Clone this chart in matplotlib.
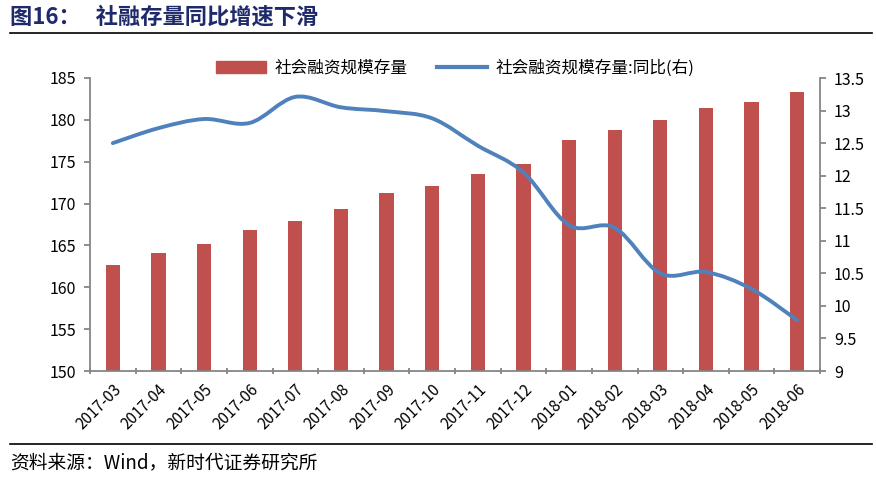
import numpy as np
import matplotlib.pyplot as plt
from matplotlib.path import Path
from matplotlib.patches import PathPatch, Patch
from matplotlib.lines import Line2D

plt.rcParams['font.family'] = ['Noto Sans CJK SC', 'DejaVu Sans']

months = ['2017-03', '2017-04', '2017-05', '2017-06', '2017-07', '2017-08',
          '2017-09', '2017-10', '2017-11', '2017-12', '2018-01', '2018-02',
          '2018-03', '2018-04', '2018-05', '2018-06']
stock = [162.7, 164.1, 165.2, 166.9, 167.9, 169.4, 171.3, 172.1,
         173.5, 174.7, 177.6, 178.8, 180.0, 181.4, 182.1, 183.3]
yoy = [12.50, 12.73, 12.87, 12.81, 13.21, 13.05, 12.99, 12.88,
       12.46, 12.05, 11.24, 11.20, 10.50, 10.52, 10.26, 9.78]

red = '#C0504D'
blue = '#4F81BD'
grey = '#868686'

fig = plt.figure(figsize=(8.76, 4.8), dpi=100)
ax = fig.add_axes([90 / 876, 1 - 371 / 480, 730 / 876, 293 / 480])
ax2 = ax.twinx()

x = np.arange(len(months))
ax.bar(x, stock, width=0.31, color=red, zorder=2)
ax.set_ylim(150, 185)
ax.set_yticks(np.arange(150, 186, 5))
ax.set_xlim(-0.5, len(months) - 0.5)
ax.set_xticks(x)
ax.set_xticklabels(months, rotation=45, ha='right', rotation_mode='anchor')
ax.set_xticks(np.arange(-0.5, len(months), 1), minor=True)
ax.tick_params(axis='x', which='major', length=0, pad=7, labelsize=11)
ax.tick_params(axis='x', which='minor', length=5, direction='inout', color=grey, width=1.3)
ax.tick_params(axis='y', length=4, color=grey, width=1.3, labelsize=11.5, pad=6)

# smoothed line (Catmull-Rom style bezier through the data points)
pts = np.column_stack([x, yoy])
verts = [tuple(pts[0])]
codes = [Path.MOVETO]
for i in range(len(pts) - 1):
    p0 = pts[i - 1] if i > 0 else pts[i]
    p1, p2 = pts[i], pts[i + 1]
    p3 = pts[i + 2] if i + 2 < len(pts) else pts[i + 1]
    c1 = p1 + (p2 - p0) / 6
    c2 = p2 - (p3 - p1) / 6
    verts += [tuple(c1), tuple(c2), tuple(p2)]
    codes += [Path.CURVE4] * 3
ax2.add_patch(PathPatch(Path(verts, codes), fill=False, edgecolor=blue,
                        lw=2.8, capstyle='round', zorder=3))
ax2.set_ylim(9, 13.5)
ax2.set_yticks(np.arange(9, 13.6, 0.5))
ax2.set_yticklabels(['9', '9.5', '10', '10.5', '11', '11.5', '12', '12.5', '13', '13.5'])
ax2.tick_params(axis='y', length=4, color=grey, width=1.3, labelsize=11.5, pad=6)

for a in (ax, ax2):
    a.spines['top'].set_visible(False)
    for s in ('left', 'right', 'bottom'):
        a.spines[s].set_color(grey)
        a.spines[s].set_linewidth(1.3)
ax.spines['right'].set_visible(False)
ax2.spines['left'].set_visible(False)
ax2.spines['bottom'].set_visible(False)

handles = [Patch(color=red), Line2D([0], [0], color=blue, lw=3)]
labels = ['社会融资规模存量', '社会融资规模存量:同比(右)']
fig.legend(handles, labels, loc='center', bbox_to_anchor=(455 / 876, 1 - 68 / 480),
           ncol=2, frameon=False, fontsize=12, handlelength=3.0,
           columnspacing=1.8, handletextpad=0.5)

fig.text(10 / 876, 1 - 17 / 480, '图16：   社融存量同比增速下滑', fontsize=16,
         fontweight='bold', color='#1F2A6B', va='center')
fig.add_artist(Line2D([10 / 876, 872 / 876], [1 - 33 / 480] * 2, color='black', lw=1.2))
fig.add_artist(Line2D([10 / 876, 872 / 876], [1 - 444 / 480] * 2, color='black', lw=1.2))
fig.text(10 / 876, 1 - 463 / 480, '资料来源：Wind，新时代证券研究所', fontsize=13.5,
         color='black', va='center')

fig.savefig('out.png', dpi=100)
